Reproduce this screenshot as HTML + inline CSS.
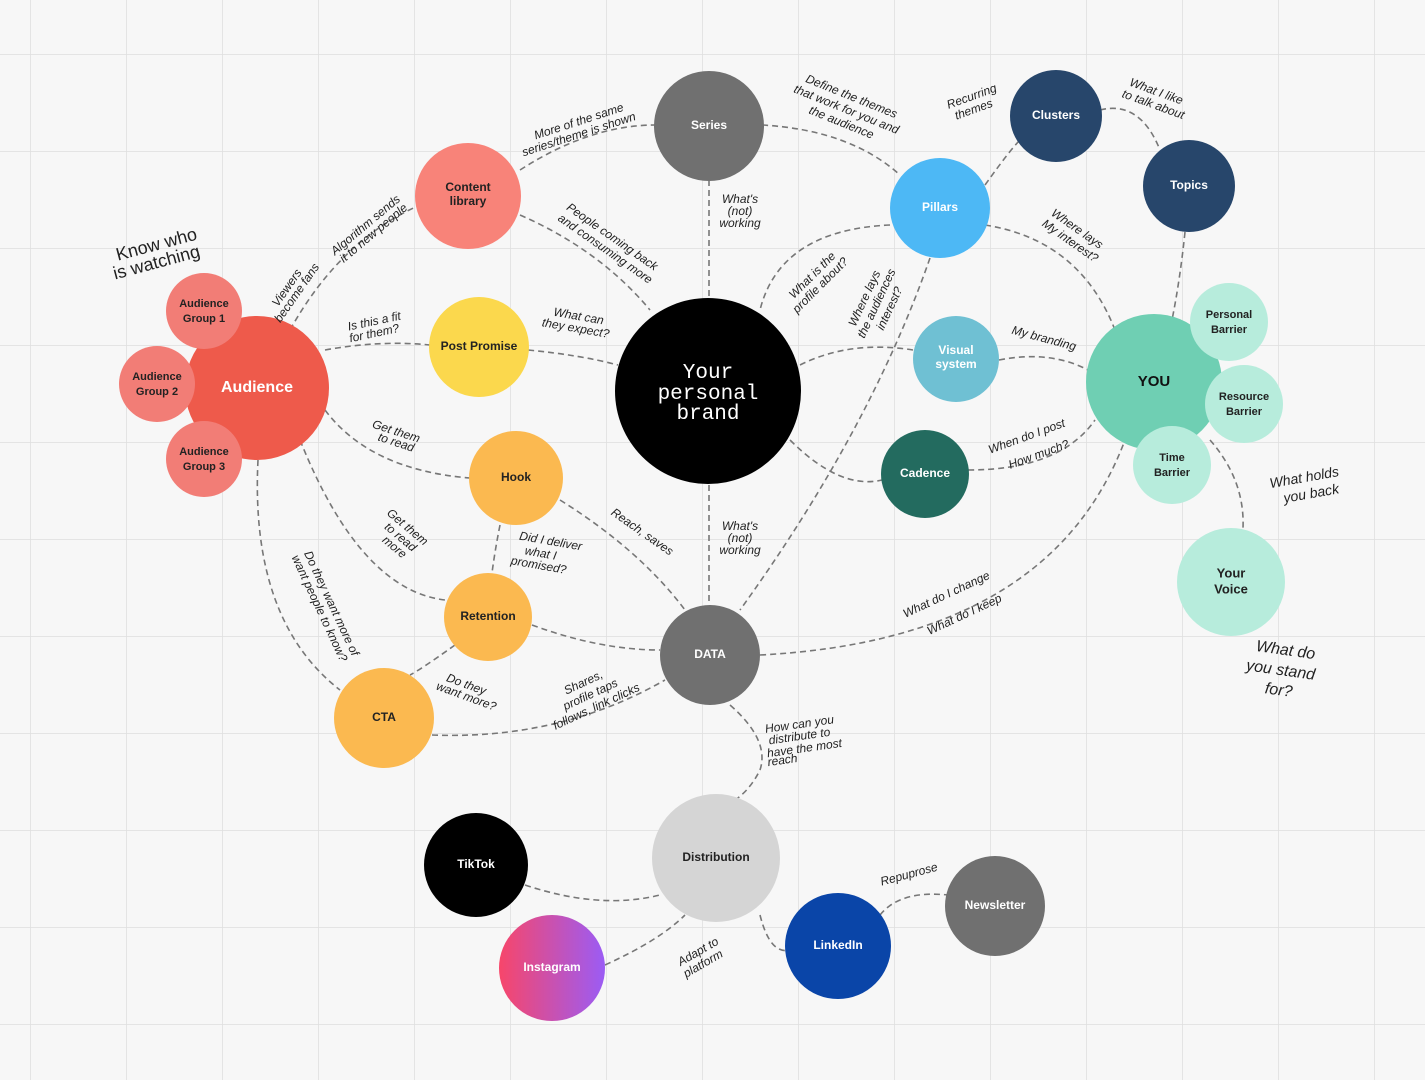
<!DOCTYPE html>
<html><head><meta charset="utf-8"><style>
html,body{margin:0;padding:0;width:1425px;height:1080px;overflow:hidden;background:#f7f7f7}
svg{display:block}
.n{font-family:"Liberation Sans",sans-serif;font-weight:bold;text-anchor:middle;dominant-baseline:middle}
.h{font-family:"Liberation Sans",sans-serif;font-style:italic;font-size:12px;fill:#222;text-anchor:middle}
.e{fill:none;stroke:#777;stroke-width:1.6;stroke-dasharray:6 4}
</style></head><body>
<svg width="1425" height="1080" viewBox="0 0 1425 1080">
<defs>
<pattern id="g" x="30" y="54" width="96" height="97" patternUnits="userSpaceOnUse">
<path d="M0 0H96M0 0V97" stroke="#dedede" stroke-width="1.5" fill="none"/>
</pattern>
<linearGradient id="ig" x1="0" y1="0" x2="1" y2="0"><stop offset="0" stop-color="#f7466a"/><stop offset="1" stop-color="#9b5cf5"/></linearGradient>
</defs>
<rect width="1425" height="1080" fill="url(#g)"/>
<!-- edges -->
<g class="e">
<path d="M520 170 Q590 125 655 125"/>
<path d="M762 125 Q850 130 900 175"/>
<path d="M709 180 V300"/>
<path d="M520 215 Q600 250 650 310"/>
<path d="M290 330 Q340 240 420 205"/>
<path d="M325 350 Q380 340 430 345"/>
<path d="M528 350 Q580 355 618 365"/>
<path d="M325 410 Q370 470 470 478"/>
<path d="M300 440 Q360 590 445 600"/>
<path d="M258 460 Q250 620 340 690"/>
<path d="M985 185 Q1010 150 1020 140"/>
<path d="M1100 110 Q1140 100 1160 150"/>
<path d="M1185 232 Q1180 280 1172 320"/>
<path d="M985 225 Q1080 240 1115 330"/>
<path d="M890 225 Q780 230 760 310"/>
<path d="M930 258 Q870 430 740 610"/>
<path d="M800 365 Q850 340 913 350"/>
<path d="M999 360 Q1050 350 1088 370"/>
<path d="M790 440 Q840 490 882 480"/>
<path d="M968 470 Q1060 470 1095 420"/>
<path d="M1210 440 Q1245 480 1243 528"/>
<path d="M709 485 V605"/>
<path d="M560 500 Q640 550 685 610"/>
<path d="M500 525 Q495 550 492 573"/>
<path d="M532 625 Q600 650 660 650"/>
<path d="M455 645 Q420 670 410 675"/>
<path d="M432 735 Q560 740 665 680"/>
<path d="M760 655 Q1050 640 1125 440"/>
<path d="M730 705 Q770 740 760 770 Q750 790 735 800"/>
<path d="M525 885 Q600 910 660 895"/>
<path d="M605 965 Q660 940 685 915"/>
<path d="M760 915 Q770 955 790 950"/>
<path d="M880 915 Q900 890 948 895"/>
</g>
<!-- nodes -->
<g>
<circle cx="709" cy="126" r="55" fill="#707070"/>
<circle cx="468" cy="196" r="53" fill="#f88379"/>
<circle cx="1056" cy="116" r="46" fill="#27466b"/>
<circle cx="1189" cy="186" r="46" fill="#27466b"/>
<circle cx="940" cy="208" r="50" fill="#4db8f5"/>
<circle cx="257" cy="388" r="72" fill="#ee5a4b"/>
<circle cx="204" cy="311" r="38" fill="#f27d76"/>
<circle cx="157" cy="384" r="38" fill="#f27d76"/>
<circle cx="204" cy="459" r="38" fill="#f27d76"/>
<circle cx="479" cy="347" r="50" fill="#fbd84d"/>
<circle cx="708" cy="391" r="93" fill="#000"/>
<circle cx="956" cy="359" r="43" fill="#6fc0d3"/>
<circle cx="1154" cy="382" r="68" fill="#6fcfb3"/>
<circle cx="1229" cy="322" r="39" fill="#b7ecdc"/>
<circle cx="1244" cy="404" r="39" fill="#b7ecdc"/>
<circle cx="1172" cy="465" r="39" fill="#b7ecdc"/>
<circle cx="925" cy="474" r="44" fill="#236b5f"/>
<circle cx="516" cy="478" r="47" fill="#fbb950"/>
<circle cx="488" cy="617" r="44" fill="#fbb950"/>
<circle cx="384" cy="718" r="50" fill="#fbb950"/>
<circle cx="710" cy="655" r="50" fill="#707070"/>
<circle cx="1231" cy="582" r="54" fill="#b7ecdc"/>
<circle cx="716" cy="858" r="64" fill="#d5d5d5"/>
<circle cx="476" cy="865" r="52" fill="#000"/>
<circle cx="552" cy="968" r="53" fill="url(#ig)"/>
<circle cx="838" cy="946" r="53" fill="#0a45a8"/>
<circle cx="995" cy="906" r="50" fill="#707070"/>
</g>
<g class="n" font-size="12">
<text x="709" y="126" fill="#fff">Series</text>
<text x="468" y="188" fill="#222">Content</text><text x="468" y="202" fill="#222">library</text>
<text x="1056" y="116" fill="#fff">Clusters</text>
<text x="1189" y="186" fill="#fff">Topics</text>
<text x="940" y="208" fill="#fff">Pillars</text>
<text x="257" y="388" fill="#fff" font-size="16">Audience</text>
<text x="204" y="304" font-size="11" fill="#222">Audience</text><text x="204" y="319" font-size="11" fill="#222">Group 1</text>
<text x="157" y="377" font-size="11" fill="#222">Audience</text><text x="157" y="392" font-size="11" fill="#222">Group 2</text>
<text x="204" y="452" font-size="11" fill="#222">Audience</text><text x="204" y="467" font-size="11" fill="#222">Group 3</text>
<text x="479" y="347" fill="#222">Post Promise</text>
<text x="956" y="351" fill="#fff">Visual</text><text x="956" y="365" fill="#fff">system</text>
<text x="1154" y="382" fill="#111" font-size="15">YOU</text>
<text x="1229" y="315" font-size="11" fill="#222">Personal</text><text x="1229" y="330" font-size="11" fill="#222">Barrier</text>
<text x="1244" y="397" font-size="11" fill="#222">Resource</text><text x="1244" y="412" font-size="11" fill="#222">Barrier</text>
<text x="1172" y="458" font-size="11" fill="#222">Time</text><text x="1172" y="473" font-size="11" fill="#222">Barrier</text>
<text x="925" y="474" fill="#fff">Cadence</text>
<text x="516" y="478" fill="#222">Hook</text>
<text x="488" y="617" fill="#222">Retention</text>
<text x="384" y="718" fill="#222">CTA</text>
<text x="710" y="655" fill="#fff">DATA</text>
<text x="1231" y="574" fill="#222" font-size="13">Your</text><text x="1231" y="590" fill="#222" font-size="13">Voice</text>
<text x="716" y="858" fill="#222">Distribution</text>
<text x="476" y="865" fill="#fff">TikTok</text>
<text x="552" y="968" fill="#fff">Instagram</text>
<text x="838" y="946" fill="#fff">LinkedIn</text>
<text x="995" y="906" fill="#fff">Newsletter</text>
</g>
<g font-family="Liberation Mono,monospace" font-size="21" fill="#fff" text-anchor="middle">
<text x="708" y="378">Your</text><text x="708" y="399">personal</text><text x="708" y="419">brand</text>
</g>
<!-- handwritten labels -->
<g class="h">
<text transform="translate(580,125) rotate(-18)">More of the same</text>
<text transform="translate(580,138) rotate(-18)">series/theme is shown</text>
<text transform="translate(850,100) rotate(22)">Define the themes</text>
<text transform="translate(845,113) rotate(22)">that work for you and</text>
<text transform="translate(840,126) rotate(22)">the audience</text>
<text x="740" y="203">What's</text><text x="740" y="215">(not)</text><text x="740" y="227">working</text>
<text transform="translate(610,240) rotate(35)">People coming back</text>
<text transform="translate(603,252) rotate(35)">and consuming more</text>
<text transform="translate(368,228) rotate(-40)">Algorithm sends</text>
<text transform="translate(376,236) rotate(-40)">it to new people</text>
<text transform="translate(290,290) rotate(-55)">Viewers</text>
<text transform="translate(300,295) rotate(-55)">become fans</text>
<text transform="translate(158,250) rotate(-15)" font-size="18" font-style="normal">Know who</text>
<text transform="translate(158,268) rotate(-15)" font-size="18" font-style="normal">is watching</text>
<text transform="translate(375,325) rotate(-12)">Is this a fit</text>
<text transform="translate(375,337) rotate(-12)">for them?</text>
<text transform="translate(578,320) rotate(10)">What can</text>
<text transform="translate(575,332) rotate(10)">they expect?</text>
<text transform="translate(395,435) rotate(18)">Get them</text>
<text transform="translate(395,446) rotate(18)">to read</text>
<text transform="translate(405,530) rotate(40)">Get them</text>
<text transform="translate(398,540) rotate(40)">to read</text>
<text transform="translate(392,550) rotate(40)">more</text>
<text transform="translate(328,605) rotate(65)">Do they want more of</text>
<text transform="translate(316,610) rotate(65)">want people to know?</text>
<text transform="translate(550,545) rotate(10)">Did I deliver</text>
<text transform="translate(540,557) rotate(10)">what I</text>
<text transform="translate(538,569) rotate(10)">promised?</text>
<text transform="translate(640,535) rotate(35)">Reach, saves</text>
<text transform="translate(465,688) rotate(20)">Do they</text>
<text transform="translate(465,700) rotate(20)">want more?</text>
<text transform="translate(585,686) rotate(-25)">Shares,</text>
<text transform="translate(592,698) rotate(-25)">profile taps</text>
<text transform="translate(598,710) rotate(-25)">follows, link clicks</text>
<text x="740" y="530">What's</text><text x="740" y="542">(not)</text><text x="740" y="554">working</text>
<text transform="translate(815,278) rotate(-45)">What is the</text>
<text transform="translate(823,288) rotate(-45)">profile about?</text>
<text transform="translate(868,300) rotate(-65)">Where lays</text>
<text transform="translate(880,305) rotate(-65)">the audiences</text>
<text transform="translate(893,310) rotate(-65)">interest?</text>
<text transform="translate(973,100) rotate(-20)">Recurring</text>
<text transform="translate(975,113) rotate(-20)">themes</text>
<text transform="translate(1155,95) rotate(20)">What I like</text>
<text transform="translate(1152,108) rotate(20)">to talk about</text>
<text transform="translate(1075,232) rotate(35)">Where lays</text>
<text transform="translate(1068,244) rotate(35)">My interest?</text>
<text transform="translate(1043,342) rotate(15)">My branding</text>
<text transform="translate(1028,440) rotate(-20)">When do I post</text>
<text transform="translate(1040,458) rotate(-20)">How much?</text>
<text transform="translate(1305,482) rotate(-10)" font-size="14">What holds</text>
<text transform="translate(1312,498) rotate(-10)" font-size="14">you back</text>
<text transform="translate(1285,655) rotate(8)" font-size="16">What do</text>
<text transform="translate(1280,675) rotate(8)" font-size="16">you stand</text>
<text transform="translate(1278,695) rotate(8)" font-size="16">for?</text>
<text transform="translate(948,598) rotate(-25)">What do I change</text>
<text transform="translate(966,618) rotate(-25)">What do I keep</text>
<text transform="translate(800,728) rotate(-8)">How can you</text>
<text transform="translate(800,740) rotate(-8)">distribute to</text>
<text transform="translate(805,752) rotate(-8)">have the most</text>
<text transform="translate(783,764) rotate(-8)">reach</text>
<text transform="translate(910,878) rotate(-15)">Repuprose</text>
<text transform="translate(700,955) rotate(-30)">Adapt to</text>
<text transform="translate(705,967) rotate(-30)">platform</text>
</g>
</svg>
</body></html>
